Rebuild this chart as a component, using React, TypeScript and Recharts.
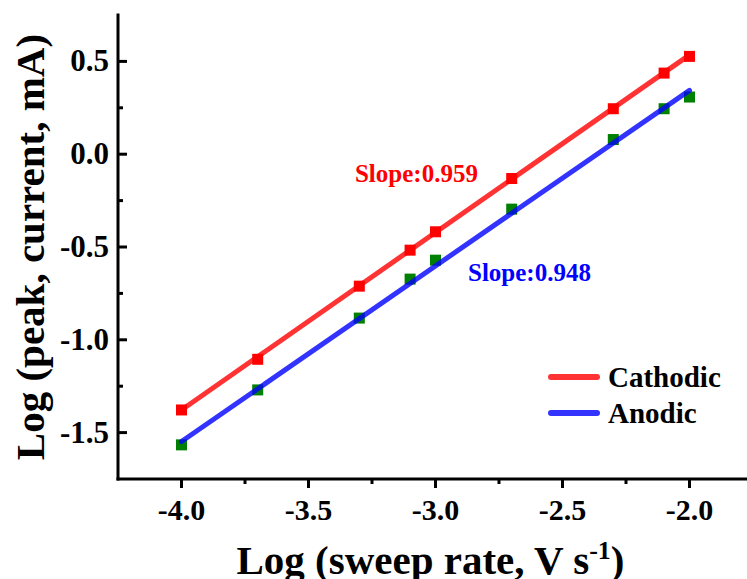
import React from "react";
import { ComposedChart, Scatter, XAxis, YAxis, ReferenceDot } from "recharts";

// log of sweep rate (V/s) and log of peak current (mA)
const logRate = [-4.0, -3.7, -3.3, -3.1, -3.0, -2.7, -2.3, -2.1, -2.0];
const cathodicPeak = [-1.378, -1.105, -0.711, -0.517, -0.418, -0.131, 0.245, 0.437, 0.527];
const anodicPeak = [-1.566, -1.27, -0.883, -0.673, -0.571, -0.296, 0.079, 0.245, 0.308];

// linear fit end points
const fitRange = [-4.0, -2.0];
const cathodicFit = [-1.378, 0.535];
const anodicFit = [-1.548, 0.344];

const slopeText = ["Slope:0.959", "Slope:0.948"];
const seriesNames = ["Cathodic", "Anodic"];

const xTicks = [-4.0, -3.75, -3.5, -3.25, -3.0, -2.75, -2.5, -2.25, -2.0];
const yTicks = [-1.5, -1.25, -1.0, -0.75, -0.5, -0.25, 0, 0.25, 0.5];

const FONT = "'Liberation Serif', 'Times New Roman', serif";
const RED_LINE = "rgba(255,0,0,0.8)";
const BLUE_LINE = "rgba(0,0,255,0.8)";

const toPoints = (xs: number[], ys: number[]) => xs.map((x, i) => ({ x, y: ys[i] }));

const isMajor = (v: number) => Math.abs(v * 2 - Math.round(v * 2)) < 1e-6;

function XTick({ x, y, payload }: any) {
  const v = payload.value as number;
  const major = isMajor(v);
  return (
    <g>
      <line x1={x} x2={x} y1={y} y2={y + (major ? 9 : 5)} stroke="#000" strokeWidth={3} />
      {major && (
        <text x={x} y={y + 41} textAnchor="middle" fontFamily={FONT} fontWeight="bold" fontSize={30} fill="#000">
          {v.toFixed(1)}
        </text>
      )}
    </g>
  );
}

// y ticks point into the plot
function YTick({ x, y, payload }: any) {
  const v = payload.value as number;
  const major = isMajor(v);
  return (
    <g>
      <line x1={x} x2={x + (major ? 9 : 5)} y1={y} y2={y} stroke="#000" strokeWidth={3} />
      {major && (
        <text x={x - 9} y={y + 10} textAnchor="end" fontFamily={FONT} fontWeight="bold" fontSize={31} fill="#000">
          {v.toFixed(1)}
        </text>
      )}
    </g>
  );
}

function XTitle({ viewBox }: any) {
  const { x, y, width } = viewBox;
  return (
    <text x={x + width / 2 - 5} y={y + 95} textAnchor="middle" fontFamily={FONT} fontWeight="bold" fontSize={41} fill="#000">
      Log (sweep rate, V s
      <tspan dy={-15} fontSize={26}>-1</tspan>
      <tspan dy={15}>)</tspan>
    </text>
  );
}

function YTitle({ viewBox }: any) {
  const { y, height } = viewBox;
  const cx = 36;
  const cy = y + height / 2;
  return (
    <text
      x={cx}
      y={cy}
      transform={`rotate(-90, ${cx}, ${cy})`}
      textAnchor="middle"
      fontFamily={FONT}
      fontWeight="bold"
      fontSize={41}
      fill="#000"
    >
      Log (peak, current, mA)
    </text>
  );
}

const square = (fill: string) => (props: any) => (
  <rect x={props.cx - 5.5} y={props.cy - 5.5} width={11} height={11} fill={fill} />
);

const noShape = () => <g />;

const slopeLabel = (text: string, color: string) => (props: any) => {
  const vb = props.viewBox;
  return (
    <text x={vb.x} y={vb.y} fontFamily={FONT} fontWeight="bold" fontSize={25} fill={color}>
      {text}
    </text>
  );
};

function ChartLegend() {
  const colors = [RED_LINE, BLUE_LINE];
  return (
    <div style={{ position: "absolute", left: 540, top: 351 }}>
      {seriesNames.map((name, i) => (
        <div key={name} style={{ display: "flex", alignItems: "center", height: 36 }}>
          <svg width={52} height={8}>
            <line x1={3} x2={49} y1={4} y2={4} stroke={colors[i]} strokeWidth={6} strokeLinecap="round" />
          </svg>
          <span style={{ marginLeft: 8, fontFamily: FONT, fontWeight: "bold", fontSize: 29, color: "#000" }}>
            {name}
          </span>
        </div>
      ))}
    </div>
  );
}

export default function App() {
  const cathodicPoints = toPoints(logRate, cathodicPeak);
  const anodicPoints = toPoints(logRate, anodicPeak);
  const cathodicLine = toPoints(fitRange, cathodicFit);
  const anodicLine = toPoints(fitRange, anodicFit);

  return (
    <div style={{ position: "fixed", left: 8, top: 8, width: 739, height: 571, overflow: "hidden", background: "#fff" }}>
      <ComposedChart width={750} height={571} margin={{ top: 7, right: 5, bottom: 0, left: 0 }}>
        <XAxis
          dataKey="x"
          type="number"
          domain={[-4.25, -1.75]}
          ticks={xTicks}
          interval={0}
          allowDataOverflow
          height={100}
          tickSize={0}
          tickMargin={0}
          tickLine={false}
          tick={<XTick />}
          axisLine={{ stroke: "#000", strokeWidth: 3, strokeLinecap: "square" }}
          label={<XTitle />}
        />
        <XAxis
          xAxisId="top"
          orientation="top"
          type="number"
          domain={[-4.25, -1.75]}
          height={0}
          tick={false}
          tickLine={false}
          axisLine={{ stroke: "#000", strokeWidth: 3, strokeLinecap: "square" }}
        />
        <YAxis
          dataKey="y"
          type="number"
          domain={[-1.75, 0.75]}
          ticks={yTicks}
          interval={0}
          allowDataOverflow
          width={110}
          tickSize={0}
          tickMargin={0}
          tickLine={false}
          tick={<YTick />}
          axisLine={{ stroke: "#000", strokeWidth: 3, strokeLinecap: "square" }}
          label={<YTitle />}
        />
        <Scatter name="Cathodic points" data={cathodicPoints} shape={square("#ff0000")} isAnimationActive={false} />
        <Scatter name="Anodic points" data={anodicPoints} shape={square("#008000")} isAnimationActive={false} />
        <Scatter
          name="Cathodic"
          data={cathodicLine}
          shape={noShape}
          line={{ stroke: RED_LINE, strokeWidth: 5, strokeLinecap: "round" }}
          isAnimationActive={false}
        />
        <Scatter
          name="Anodic"
          data={anodicLine}
          shape={noShape}
          line={{ stroke: BLUE_LINE, strokeWidth: 5, strokeLinecap: "round" }}
          isAnimationActive={false}
        />
        <ReferenceDot x={-3.317} y={-0.149} r={0} fill="none" stroke="none" label={slopeLabel(slopeText[0], "#ff0000")} />
        <ReferenceDot x={-2.872} y={-0.682} r={0} fill="none" stroke="none" label={slopeLabel(slopeText[1], "#0000ff")} />
      </ComposedChart>
      <ChartLegend />
    </div>
  );
}
